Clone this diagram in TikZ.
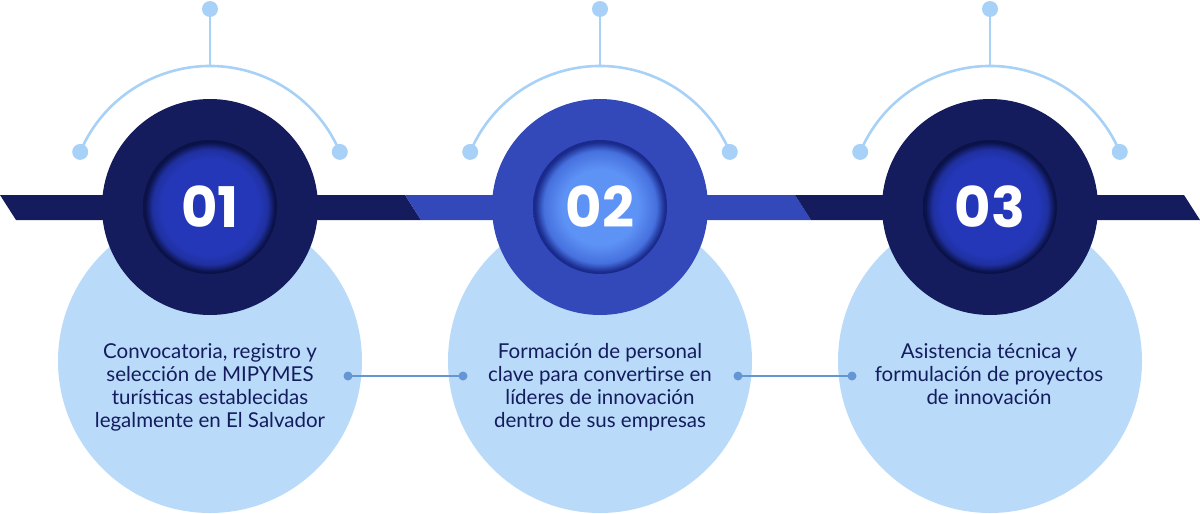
\documentclass[tikz,border=0pt]{standalone}
\usepackage{fontspec}
\usetikzlibrary{calc}
\setmainfont{Lato}
\newfontfamily\numfont{Poppins}
\definecolor{navy}{HTML}{141C5E}
\definecolor{midblue}{HTML}{3349BA}
\definecolor{lightcirc}{HTML}{B9DAF9}
\definecolor{arccol}{HTML}{A8D1F7}
\definecolor{conncol}{HTML}{6596D4}
\definecolor{txtcol}{HTML}{141C5E}
\definecolor{inAc}{HTML}{2437B8}
\definecolor{inAm}{HTML}{1F309F}
\definecolor{inAe}{HTML}{0B1248}
\definecolor{inBc}{HTML}{5E93F6}
\definecolor{inBm}{HTML}{4670DE}
\definecolor{inBe}{HTML}{1A2A8C}
\pgfdeclareradialshading{innerA}{\pgfpoint{0bp}{0bp}}{color(0bp)=(inAc); color(18bp)=(inAc); color(21.5bp)=(inAm); color(24.2bp)=(inAe); color(25bp)=(inAe); color(50bp)=(inAe)}
\pgfdeclareradialshading{innerB}{\pgfpoint{0bp}{0bp}}{color(0bp)=(inBc); color(14bp)=(inBc); color(21bp)=(inBm); color(24.2bp)=(inBe); color(25bp)=(inBe); color(50bp)=(inBe)}
\tikzset{
  lightdisc/.style={circle, fill=lightcirc, minimum size=304pt, inner sep=0pt},
  outerdisc/.style={circle, minimum size=216pt, inner sep=0pt},
  innerdisc/.style={circle, minimum size=134pt, inner sep=0pt},
  numtext/.style={text=white, font=\numfont\bfseries\fontsize{56}{56}\selectfont},
  arcline/.style={draw=arccol, line width=2.6pt},
  arcdot/.style={circle, fill=arccol, minimum size=16pt, inner sep=0pt},
  conndot/.style={circle, fill=conncol, minimum size=9pt, inner sep=0pt},
  connline/.style={draw=conncol, line width=2.6pt},
  bodytext/.style={text=txtcol, align=center, anchor=north, inner sep=0pt,
    font=\fontsize{20.5}{23}\selectfont},
}
\begin{document}
\begin{tikzpicture}[x=1pt,y=-1pt]
\useasboundingbox (0,0) rectangle (1200,514);
% light discs
\node[lightdisc] (l1) at (210,361) {};
\node[lightdisc] (l2) at (600,361) {};
\node[lightdisc] (l3) at (990,361) {};
% band
\fill[navy] (0,195) -- (405,195) -- (421,220) -- (16,220) -- cycle;
\fill[midblue] (405,195) -- (795,195) -- (811,220) -- (421,220) -- cycle;
\fill[navy] (795,195) -- (1184,195) -- (1200,220) -- (811,220) -- cycle;
% arcs and top dots (y axis points down, so angles are mirrored)
\foreach \cx/\k in {210/1,600/2,990/3}{
  \draw[arcline] (\cx,207) ++(203:141) arc[start angle=203, end angle=337, radius=141];
  \node[arcdot] (al\k) at ($(\cx,207)+(203:141)$) {};
  \node[arcdot] (ar\k) at ($(\cx,207)+(337:141)$) {};
  \node[arcdot] (at\k) at (\cx,9) {};
  \coordinate (ab\k) at (\cx,66);
  \draw[arcline] (ab\k) -- (at\k.center);
}
% outer discs
\node[outerdisc, fill=navy] (o1) at (210,207) {};
\node[outerdisc, fill=midblue] (o2) at (600,207) {};
\node[outerdisc, fill=navy] (o3) at (990,207) {};
% inner discs
\node[innerdisc, shading=innerA] (i1) at (210,207) {};
\node[innerdisc, shading=innerB] (i2) at (600,207) {};
\node[innerdisc, shading=innerA] (i3) at (990,207) {};
\node[numtext] at (i1) {01};
\node[numtext] at (i2) {02};
\node[numtext] at (i3) {03};
% texts
\node[bodytext] (t1) at (210,343) {Convocatoria, registro y\\selección de MIPYMES\\turísticas establecidas\\legalmente en El Salvador};
\node[bodytext] (t2) at (600,343) {Formación de personal\\clave para convertirse en\\líderes de innovación\\dentro de sus empresas};
\node[bodytext] (t3) at (989,343) {Asistencia técnica y\\formulación de proyectos\\de innovación};
% connectors
\node[conndot] (c1a) at (348,376) {};
\node[conndot] (c1b) at (463,376) {};
\node[conndot] (c2a) at (738,376) {};
\node[conndot] (c2b) at (852,376) {};
\draw[connline] (c1a.center) -- (c1b.center);
\draw[connline] (c2a.center) -- (c2b.center);
\end{tikzpicture}
\end{document}
